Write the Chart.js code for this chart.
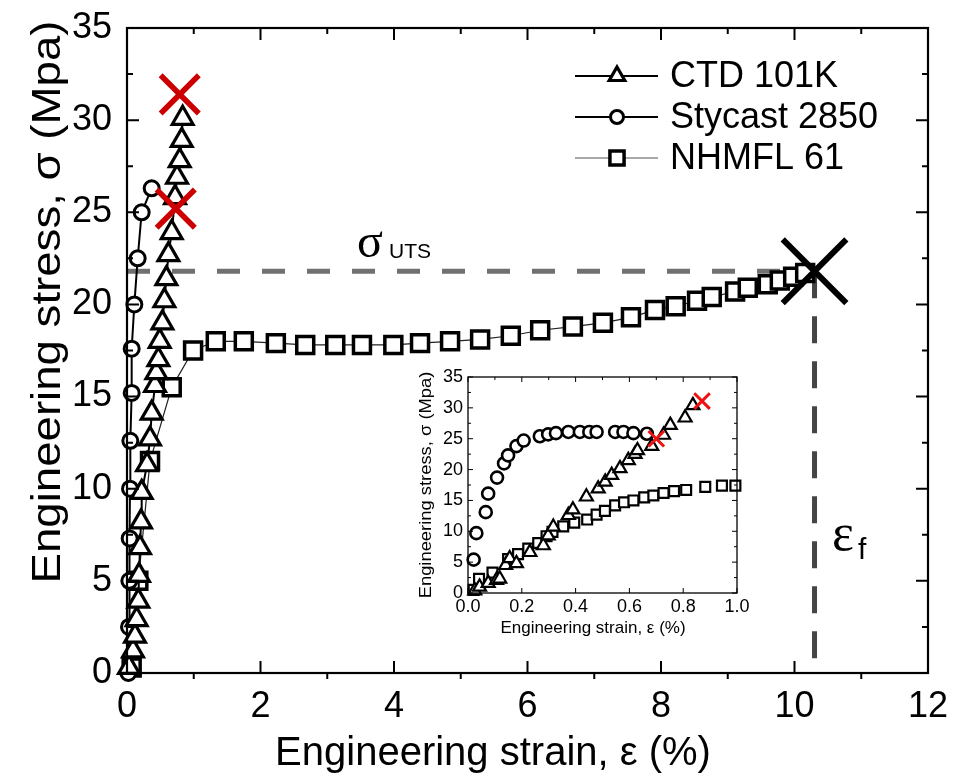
<!DOCTYPE html>
<html>
<head>
<meta charset="utf-8">
<title>Engineering stress-strain</title>
<script src="https://cdn.jsdelivr.net/npm/chart.js@4.4.0/dist/chart.umd.min.js"></script>
<style>
  html, body { margin: 0; padding: 0; background: #fff; }
  #wrap { position: relative; width: 953px; height: 776px; overflow: hidden; }
  #main { position: absolute; left: 0; top: 0; }
  #inset { position: absolute; left: 405px; top: 360px; }
</style>
</head>
<body>
<div id="wrap">
  <canvas id="main" width="953" height="776"></canvas>
  <canvas id="inset" width="345" height="292"></canvas>
</div>
<script>
  // ---- main plot data (strain %, stress MPa) ----
  const mainCtdStrain = [0.03, 0.09, 0.12, 0.145, 0.17, 0.18, 0.195, 0.21, 0.22, 0.30, 0.345, 0.37, 0.42, 0.44, 0.47, 0.49, 0.53, 0.56, 0.59, 0.62, 0.67, 0.72, 0.75, 0.79, 0.82, 0.834];
  const mainCtdStress = [0.3, 1.2, 2.0, 2.9, 3.9, 5.3, 6.8, 8.2, 9.8, 11.3, 12.7, 14.1, 15.6, 16.3, 17.0, 18.0, 19.0, 20.2, 21.4, 22.7, 23.9, 25.8, 26.9, 27.8, 28.9, 30.1];

  const mainStyStrain = [0.02, 0.03, 0.035, 0.04, 0.045, 0.05, 0.07, 0.07, 0.11, 0.16, 0.22, 0.37];
  const mainStyStress = [0.0, 2.5, 5.0, 7.3, 10.0, 12.6, 15.2, 17.6, 20.0, 22.5, 25.0, 26.3];

  const mainNhStrain = [0.07, 0.17, 0.345, 0.67, 0.99, 1.33, 1.75, 2.23, 2.67, 3.12, 3.52, 3.99, 4.39, 4.84, 5.29, 5.75, 6.19, 6.68, 7.13, 7.55, 7.91, 8.22, 8.54, 8.76, 9.11, 9.30, 9.60, 9.78, 9.98, 10.16];
  const mainNhStress = [0.3, 5.0, 11.5, 15.5, 17.5, 18.0, 18.0, 17.9, 17.8, 17.8, 17.8, 17.8, 17.9, 18.0, 18.1, 18.3, 18.6, 18.8, 19.0, 19.3, 19.7, 19.9, 20.2, 20.4, 20.7, 20.9, 21.1, 21.3, 21.5, 21.7];

  const mainBreakStrain = [0.79, 0.73];
  const mainBreakStress = [31.4, 25.2];

  const utsStress = 21.8;
  const failStrain = 10.3;

  // ---- inset data ----
  const insetCtdStrain = [0.025, 0.043, 0.075, 0.106, 0.118, 0.14, 0.155, 0.18, 0.23, 0.28, 0.298, 0.317, 0.373, 0.39, 0.44, 0.484, 0.51, 0.534, 0.565, 0.596, 0.621, 0.63, 0.683, 0.727, 0.752, 0.807, 0.836];
  const insetCtdStress = [0.4, 1.0, 1.6, 2.1, 2.3, 4.5, 5.6, 4.8, 6.6, 7.7, 9.3, 10.7, 12.6, 13.5, 15.6, 16.9, 18.0, 19.1, 20.2, 21.5, 22.5, 23.1, 23.8, 25.6, 27.2, 28.4, 30.4];

  const insetStyStrain = [0.021, 0.031, 0.066, 0.075, 0.108, 0.134, 0.149, 0.18, 0.207, 0.267, 0.298, 0.327, 0.373, 0.416, 0.451, 0.478, 0.547, 0.578, 0.615, 0.665];
  const insetStyStress = [5.4, 9.7, 13.1, 16.1, 18.7, 21.0, 22.3, 23.8, 24.7, 25.4, 25.7, 25.9, 26.1, 26.1, 26.1, 26.1, 26.1, 26.1, 25.9, 25.8];

  const insetNhStrain = [0.021, 0.041, 0.091, 0.149, 0.186, 0.224, 0.261, 0.292, 0.314, 0.354, 0.395, 0.443, 0.478, 0.509, 0.547, 0.580, 0.615, 0.655, 0.689, 0.727, 0.766, 0.811, 0.882, 0.944, 0.994];
  const insetNhStress = [0.5, 2.3, 3.3, 5.5, 6.3, 7.2, 8.1, 9.2, 9.9, 10.8, 11.4, 11.9, 12.7, 13.3, 14.2, 14.7, 15.0, 15.5, 15.8, 16.2, 16.5, 16.7, 17.2, 17.4, 17.4];

  const insetBreakStrain = [0.87, 0.70];
  const insetBreakStress = [31.1, 25.0];

  const seriesNames = ['CTD 101K', 'Stycast 2850', 'NHMFL 61'];

  const SANS = '"Liberation Sans", Arial, sans-serif';
  const SERIF = '"Liberation Serif", "Times New Roman", serif';
  const RED = '#cc0000';

  const pts = (xs, ys) => xs.map((x, i) => ({ x: x, y: ys[i] }));

  /**
   * Box frame with inside / outside tick marks (Origin style).
   */
  const framePlugin = {
    id: 'frame',
    afterDraw(chart, args, o) {
      const { ctx, chartArea: a } = chart;
      const xs = chart.scales.x;
      const ys = chart.scales.y;
      ctx.save();
      ctx.strokeStyle = '#000';
      ctx.lineWidth = o.lineWidth;
      ctx.lineCap = 'butt';
      ctx.strokeRect(a.left, a.top, a.right - a.left, a.bottom - a.top);

      const xMaj = xs.ticks.map((t) => t.value);
      const yMaj = ys.ticks.map((t) => t.value);
      const mid = (v) => v.slice(1).map((b, i) => (b + v[i]) / 2);

      ctx.beginPath();
      xMaj.forEach((v) => {
        const px = xs.getPixelForValue(v);
        ctx.moveTo(px, a.bottom); ctx.lineTo(px, a.bottom - o.major);
        ctx.moveTo(px, a.top); ctx.lineTo(px, a.top + o.major);
      });
      mid(xMaj).forEach((v) => {
        const px = xs.getPixelForValue(v);
        ctx.moveTo(px, a.bottom); ctx.lineTo(px, a.bottom + o.xMinorOut);
        ctx.moveTo(px, a.top); ctx.lineTo(px, a.top + o.minor);
      });
      yMaj.forEach((v) => {
        const py = ys.getPixelForValue(v);
        ctx.moveTo(a.left, py); ctx.lineTo(a.left + o.major, py);
        ctx.moveTo(a.right, py); ctx.lineTo(a.right - o.major, py);
      });
      mid(yMaj).forEach((v) => {
        const py = ys.getPixelForValue(v);
        ctx.moveTo(a.left, py); ctx.lineTo(a.left + o.minor, py);
        ctx.moveTo(a.right, py); ctx.lineTo(a.right - o.minor, py);
      });
      ctx.lineWidth = o.tickWidth;
      ctx.stroke();
      ctx.restore();
    }
  };

  /**
   * Axis titles drawn by hand so they sit where the original puts them.
   */
  const titlesPlugin = {
    id: 'titles',
    afterDraw(chart, args, o) {
      const ctx = chart.ctx;
      ctx.save();
      ctx.fillStyle = '#000';
      ctx.textAlign = 'center';
      ctx.textBaseline = 'alphabetic';
      ctx.font = o.size + 'px ' + SANS;
      ctx.fillText(o.xText, o.xPos[0], o.xPos[1]);
      ctx.translate(o.yPos[0], o.yPos[1]);
      ctx.rotate(-Math.PI / 2);
      ctx.scale(o.yStretch, 1);
      ctx.fillText(o.yText, 0, 0);
      ctx.restore();
    }
  };

  /**
   * Legend + sigma_UTS / epsilon_f labels on the main chart.
   */
  const notesPlugin = {
    id: 'notes',
    afterDraw(chart) {
      const ctx = chart.ctx;
      const sets = chart.data.datasets;
      ctx.save();

      // legend rows
      const rows = [
        { ds: sets[2], y: 76, lw: 2.2, col: '#000', r: 9, bw: 3.2 },
        { ds: sets[3], y: 117, lw: 2.2, col: '#000', r: 6.5, bw: 3 },
        { ds: sets[4], y: 158, lw: 1.2, col: '#555', r: 10, bw: 3.5 }
      ];
      rows.forEach((row, i) => {
        ctx.strokeStyle = row.col;
        ctx.lineWidth = row.lw;
        ctx.beginPath();
        ctx.moveTo(575, row.y); ctx.lineTo(658, row.y);
        ctx.stroke();
        ctx.fillStyle = '#fff';
        ctx.strokeStyle = '#000';
        ctx.lineWidth = row.bw;
        Chart.helpers.drawPoint(ctx, { pointStyle: row.ds.pointStyle, radius: row.r, rotation: 0, borderWidth: row.bw }, 617, row.y);
        ctx.fillStyle = '#000';
        ctx.font = '36px ' + SANS;
        ctx.textAlign = 'left';
        ctx.textBaseline = 'middle';
        ctx.fillText(seriesNames[i], 670, row.y + 1);
      });

      // sigma_UTS
      ctx.fillStyle = '#000';
      ctx.textBaseline = 'alphabetic';
      ctx.font = '48px ' + SERIF;
      ctx.fillText('\u03c3', 357, 257);
      ctx.font = '21px ' + SANS;
      ctx.fillText('UTS', 389, 258);

      // epsilon_f
      ctx.font = '52px ' + SERIF;
      ctx.fillText('\u03b5', 832, 550);
      ctx.font = '30px ' + SANS;
      ctx.fillText('f', 858, 559);
      ctx.restore();
    }
  };

  const axisCommon = (min, max, step, size, pad, fitKey, fitVal, digits) => ({
    type: 'linear',
    min: min,
    max: max,
    grid: { display: false, drawTicks: false },
    border: { display: false },
    ticks: {
      stepSize: step,
      color: '#000',
      padding: pad,
      maxRotation: 0,
      autoSkip: false,
      font: { family: SANS, size: size },
      callback: (v) => Number(v).toFixed(digits || 0)
    },
    afterFit(scale) {
      scale[fitKey] = fitVal;
      // no label overhang: the chart area is fixed by layout padding
      scale.paddingLeft = 0;
      scale.paddingRight = 0;
      scale.paddingTop = 0;
      scale.paddingBottom = 0;
    }
  });

  // ---- main chart ----
  new Chart(document.getElementById('main'), {
    type: 'scatter',
    data: {
      datasets: [
        {
          label: 'fracture',
          data: pts(mainBreakStrain, mainBreakStress),
          pointStyle: 'crossRot', pointRadius: 27, borderWidth: 5.5,
          borderColor: RED, showLine: false, clip: false
        },
        {
          label: 'failure',
          data: [{ x: failStrain, y: utsStress }],
          pointStyle: 'crossRot', pointRadius: 45, borderWidth: 6,
          borderColor: '#000', showLine: false, clip: false
        },
        {
          label: seriesNames[0],
          data: pts(mainCtdStrain, mainCtdStress),
          showLine: true, borderColor: '#000', borderWidth: 2,
          pointStyle: 'triangle', pointRadius: 12, pointBorderWidth: 3.2,
          pointBackgroundColor: '#fff', pointBorderColor: '#000', clip: false
        },
        {
          label: seriesNames[1],
          data: pts(mainStyStrain, mainStyStress),
          showLine: true, borderColor: '#000', borderWidth: 2,
          pointStyle: 'circle', pointRadius: 7.5, pointBorderWidth: 3,
          pointBackgroundColor: '#fff', pointBorderColor: '#000', clip: false
        },
        {
          label: seriesNames[2],
          data: pts(mainNhStrain, mainNhStress),
          showLine: true, borderColor: '#222', borderWidth: 1.2,
          pointStyle: 'rect', pointRadius: 12, pointBorderWidth: 3.5,
          pointBackgroundColor: '#fff', pointBorderColor: '#000', clip: false
        },
        {
          label: 'uts',
          data: [{ x: 0, y: utsStress }, { x: failStrain, y: utsStress }],
          showLine: true, borderColor: '#707070', borderWidth: 5,
          borderDash: [23, 22], pointRadius: 0
        },
        {
          label: 'ef',
          data: [{ x: failStrain, y: utsStress }, { x: failStrain, y: 0 }],
          showLine: true, borderColor: '#454545', borderWidth: 5,
          borderDash: [27, 18], pointRadius: 0
        }
      ]
    },
    options: {
      responsive: false,
      animation: false,
      events: [],
      layout: { autoPadding: false, padding: { top: 28, right: 25, left: 0, bottom: 0 } },
      plugins: {
        legend: { display: false },
        tooltip: { enabled: false },
        frame: { lineWidth: 2.2, tickWidth: 2, major: 12, minor: 6, xMinorOut: 6 },
        titles: {
          size: 40, yStretch: 1.14,
          xText: 'Engineering strain, \u03b5 (%)', xPos: [493, 765],
          yText: 'Engineering stress, \u03c3 (Mpa)', yPos: [60, 302]
        }
      },
      scales: {
        x: axisCommon(0, 12, 2, 36, 12, 'height', 103, 0),
        y: axisCommon(0, 35, 5, 36, 15, 'width', 127, 0)
      }
    },
    plugins: [framePlugin, titlesPlugin, notesPlugin]
  });

  // ---- inset chart ----
  new Chart(document.getElementById('inset'), {
    type: 'scatter',
    data: {
      datasets: [
        {
          label: 'fracture',
          data: pts(insetBreakStrain, insetBreakStress),
          pointStyle: 'crossRot', pointRadius: 11, borderWidth: 3,
          borderColor: '#ee1111', showLine: false, clip: false
        },
        {
          label: seriesNames[0],
          data: pts(insetCtdStrain, insetCtdStress),
          pointStyle: 'triangle', pointRadius: 7.5, pointBorderWidth: 2.2,
          pointBackgroundColor: '#fff', pointBorderColor: '#000', clip: false
        },
        {
          label: seriesNames[1],
          data: pts(insetStyStrain, insetStyStress),
          pointStyle: 'circle', pointRadius: 6, pointBorderWidth: 2.6,
          pointBackgroundColor: '#fff', pointBorderColor: '#000', clip: false
        },
        {
          label: seriesNames[2],
          data: pts(insetNhStrain, insetNhStress),
          pointStyle: 'rect', pointRadius: 7, pointBorderWidth: 2.2,
          pointBackgroundColor: '#fff', pointBorderColor: '#000', clip: false
        }
      ]
    },
    options: {
      responsive: false,
      animation: false,
      events: [],
      layout: { autoPadding: false, padding: { top: 17, right: 13, left: 0, bottom: 0 } },
      plugins: {
        legend: { display: false },
        tooltip: { enabled: false },
        frame: { lineWidth: 1.3, tickWidth: 1, major: 5, minor: 3, xMinorOut: 0 },
        titles: {
          size: 17, yStretch: 1.08,
          xText: 'Engineering strain, \u03b5 (%)', xPos: [188, 273],
          yText: 'Engineering stress, \u03c3 (Mpa)', yPos: [26, 125]
        }
      },
      scales: {
        x: axisCommon(0, 1, 0.2, 18, 3, 'height', 59, 1),
        y: axisCommon(0, 35, 5, 18, 5, 'width', 63, 0)
      }
    },
    plugins: [framePlugin, titlesPlugin]
  });
</script>
</body>
</html>
